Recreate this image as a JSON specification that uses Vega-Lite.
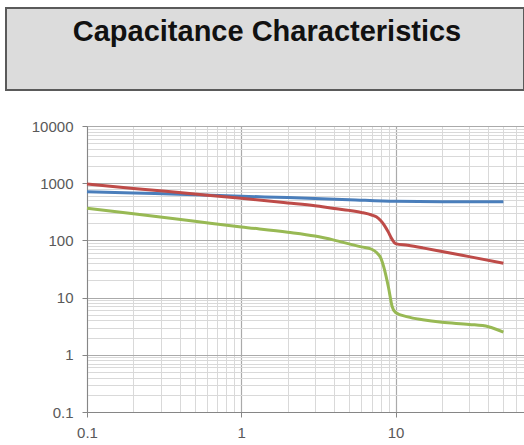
{
  "$schema": "https://vega.github.io/schema/vega-lite/v6.json",
  "padding": {"left": 5, "top": 7, "right": 0, "bottom": 0},
  "background": "white",
  "spacing": 28,
  "config": {"view": {"stroke": null}, "font": "Liberation Sans"},
  "datasets": {
    "curves": [
      {"series": "Series1", "f": 0.1, "c": 712},
      {"series": "Series1", "f": 0.2, "c": 676},
      {"series": "Series1", "f": 0.5, "c": 630},
      {"series": "Series1", "f": 1, "c": 592},
      {"series": "Series1", "f": 2, "c": 560},
      {"series": "Series1", "f": 5, "c": 515},
      {"series": "Series1", "f": 10, "c": 482},
      {"series": "Series1", "f": 20, "c": 476},
      {"series": "Series1", "f": 50, "c": 474},
      {"series": "Series2", "f": 0.1, "c": 965},
      {"series": "Series2", "f": 0.2, "c": 810},
      {"series": "Series2", "f": 0.5, "c": 648},
      {"series": "Series2", "f": 1, "c": 545},
      {"series": "Series2", "f": 2, "c": 452},
      {"series": "Series2", "f": 3, "c": 404},
      {"series": "Series2", "f": 4, "c": 362},
      {"series": "Series2", "f": 5, "c": 335},
      {"series": "Series2", "f": 6, "c": 308},
      {"series": "Series2", "f": 7, "c": 278},
      {"series": "Series2", "f": 7.5, "c": 258},
      {"series": "Series2", "f": 8, "c": 222},
      {"series": "Series2", "f": 8.5, "c": 180},
      {"series": "Series2", "f": 9, "c": 138},
      {"series": "Series2", "f": 9.5, "c": 104},
      {"series": "Series2", "f": 10, "c": 88},
      {"series": "Series2", "f": 12, "c": 82},
      {"series": "Series2", "f": 15, "c": 74},
      {"series": "Series2", "f": 20, "c": 64},
      {"series": "Series2", "f": 30, "c": 52},
      {"series": "Series2", "f": 50, "c": 40},
      {"series": "Series3", "f": 0.1, "c": 365},
      {"series": "Series3", "f": 0.2, "c": 292},
      {"series": "Series3", "f": 0.5, "c": 216},
      {"series": "Series3", "f": 1, "c": 172},
      {"series": "Series3", "f": 2, "c": 139},
      {"series": "Series3", "f": 3, "c": 119},
      {"series": "Series3", "f": 4, "c": 101},
      {"series": "Series3", "f": 5, "c": 87},
      {"series": "Series3", "f": 6, "c": 77},
      {"series": "Series3", "f": 7, "c": 70},
      {"series": "Series3", "f": 7.5, "c": 62},
      {"series": "Series3", "f": 8, "c": 50},
      {"series": "Series3", "f": 8.5, "c": 30},
      {"series": "Series3", "f": 9, "c": 15},
      {"series": "Series3", "f": 9.5, "c": 7},
      {"series": "Series3", "f": 10, "c": 5.5},
      {"series": "Series3", "f": 12, "c": 4.6},
      {"series": "Series3", "f": 15, "c": 4.1},
      {"series": "Series3", "f": 20, "c": 3.7},
      {"series": "Series3", "f": 30, "c": 3.4},
      {"series": "Series3", "f": 40, "c": 3.1},
      {"series": "Series3", "f": 50, "c": 2.5}
    ]
  },
  "vconcat": [
    {
      "width": 518,
      "height": 82,
      "view": {"fill": "#dcdcdc", "stroke": "#5a5a5a", "strokeWidth": 2},
      "data": {"values": [{"title": "Capacitance Characteristics"}]},
      "mark": {"type": "text", "font": "Liberation Sans", "fontWeight": "bold", "fontSize": 29, "color": "#111111", "baseline": "alphabetic", "align": "center", "dy": -8, "dx": 2},
      "encoding": {"text": {"field": "title", "type": "nominal"}}
    },
    {
      "spacing": 0,
      "bounds": "flush",
      "hconcat": [
        {
          "width": 81,
          "height": 286,
          "data": {"values": [{}]},
          "mark": {"type": "point", "opacity": 0}
        },
        {
          "width": 437,
          "height": 286,
          "data": {"name": "curves"},
          "mark": {"type": "line", "strokeWidth": 3, "interpolate": "monotone"},
          "encoding": {
            "x": {
              "field": "f",
              "type": "quantitative",
              "scale": {"type": "log", "domain": [0.1, 68], "nice": false},
              "axis": {
                "title": null,
                "values": [0.1, 0.2, 0.3, 0.4, 0.5, 0.6, 0.7, 0.8, 0.9, 1, 2, 3, 4, 5, 6, 7, 8, 9, 10, 20, 30, 40, 50, 60],
                "format": "~g",
                "labelExpr": "abs(log(datum.value)/LN10 - round(log(datum.value)/LN10)) < 0.000001 ? datum.label : ''",
                "labelOverlap": false,
                "labelFlush": false,
                "labelFontSize": 15,
                "labelColor": "#595959",
                "labelPadding": 8,
                "tickSize": 5,
                "tickColor": "#868686",
                "tickOpacity": {"condition": {"test": "abs(log(datum.value)/LN10 - round(log(datum.value)/LN10)) < 0.000001", "value": 1}, "value": 0},
                "domainColor": "#868686",
                "grid": true,
                "gridColor": {"condition": {"test": "abs(log(datum.value)/LN10 - round(log(datum.value)/LN10)) < 0.000001", "value": "#aaaaaa"}, "value": "#d9d9d9"},
                "gridWidth": {"condition": {"test": "abs(log(datum.value)/LN10 - round(log(datum.value)/LN10)) < 0.000001", "value": 1.2}, "value": 1}
              }
            },
            "y": {
              "field": "c",
              "type": "quantitative",
              "scale": {"type": "log", "domain": [0.1, 10000], "nice": false},
              "axis": {
                "title": null,
                "values": [0.1, 0.2, 0.3, 0.4, 0.5, 0.6, 0.7, 0.8, 0.9, 1, 2, 3, 4, 5, 6, 7, 8, 9, 10, 20, 30, 40, 50, 60, 70, 80, 90, 100, 200, 300, 400, 500, 600, 700, 800, 900, 1000, 2000, 3000, 4000, 5000, 6000, 7000, 8000, 9000, 10000],
                "format": "~g",
                "labelExpr": "abs(log(datum.value)/LN10 - round(log(datum.value)/LN10)) < 0.000001 ? datum.label : ''",
                "labelOverlap": false,
                "labelFlush": false,
                "labelFontSize": 15,
                "labelColor": "#595959",
                "labelPadding": 9,
                "tickSize": 5,
                "tickColor": "#868686",
                "tickOpacity": {"condition": {"test": "abs(log(datum.value)/LN10 - round(log(datum.value)/LN10)) < 0.000001", "value": 1}, "value": 0},
                "domainColor": "#868686",
                "grid": true,
                "gridColor": {"condition": {"test": "abs(log(datum.value)/LN10 - round(log(datum.value)/LN10)) < 0.000001", "value": "#aaaaaa"}, "value": "#d9d9d9"},
                "gridWidth": {"condition": {"test": "abs(log(datum.value)/LN10 - round(log(datum.value)/LN10)) < 0.000001", "value": 1.2}, "value": 1}
              }
            },
            "color": {
              "field": "series",
              "type": "nominal",
              "scale": {"domain": ["Series1", "Series2", "Series3"], "range": ["#4a7ebb", "#be4b48", "#98b954"]},
              "legend": null
            }
          }
        }
      ]
    }
  ]
}
